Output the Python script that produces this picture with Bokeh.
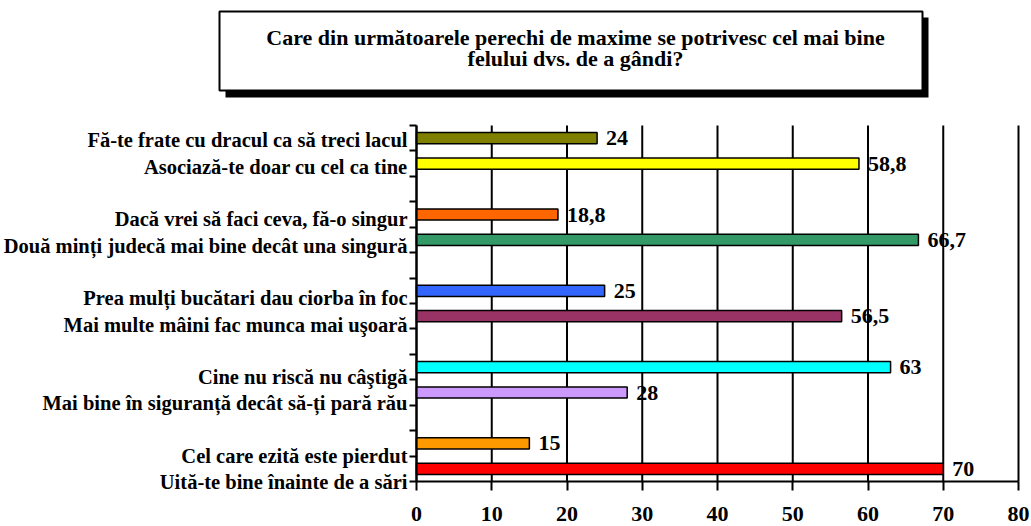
from bokeh.plotting import figure
from bokeh.models import Range1d, ColumnDataSource, FixedTicker, LinearAxis
from bokeh.embed import file_html
from bokeh.resources import INLINE
from bokeh.core.properties import value

# ---- data ----
title_lines = [
    "Care din următoarele perechi de maxime se potrivesc cel mai bine",
    "felului dvs. de a gândi?",
]
categories = [
    "Fă-te frate cu dracul ca să treci lacul",
    "Asociază-te doar cu cel ca tine",
    "Dacă vrei să faci ceva, fă-o singur",
    "Două minți judecă mai bine decât una singură",
    "Prea mulți bucătari dau ciorba în foc",
    "Mai multe mâini fac munca mai uşoară",
    "Cine nu riscă nu câştigă",
    "Mai bine în siguranță decât să-ți pară rău",
    "Cel care ezită este pierdut",
    "Uită-te bine înainte de a sări",
]
values = [24, 58.8, 18.8, 66.7, 25, 56.5, 63, 28, 15, 70]
colors = ["#808000", "#FFFF00", "#FF6600", "#339966", "#3366FF",
          "#993366", "#00FFFF", "#CC99FF", "#FF9900", "#FF0000"]
x_ticks = [0, 10, 20, 30, 40, 50, 60, 70, 80]

# ---- derived ----
n = len(categories)
slots = [3 * (i // 2) + (i % 2) + 1 for i in range(n)]   # pairs separated by a blank slot
n_slots = max(slots)
vlabels = [f"{v:g}".replace(".", ",") for v in values]
src = ColumnDataSource(dict(cat=categories, val=values, color=colors, slot=slots, vlab=vlabels))

FONT = value("Liberation Serif")

# ---- layout geometry (pixels) ----
W, H = 1031, 526
X0_PX, XMAX_PX = 416, 1018          # where 0 and 80 sit
SLOT_TOP_PX, SLOT_BOT_PX = 125, 481  # top / bottom of the bar area
kx = (XMAX_PX - X0_PX) / (x_ticks[-1] - x_ticks[0])
x_start = x_ticks[0] - X0_PX / kx
x_end = x_start + W / kx
ky = (SLOT_BOT_PX - SLOT_TOP_PX) / n_slots
y_top = 0.5 - SLOT_TOP_PX / ky
y_bot = n_slots + 0.5 + (H - SLOT_BOT_PX) / ky
# category labels sit on a slightly stretched scale (as in the original)
lab_k, lab_a = 26.3, 0.43
lab_top = lab_a - SLOT_TOP_PX / lab_k
lab_bot = lab_a + (H - SLOT_TOP_PX) / lab_k

p = figure(width=W, height=H, x_range=Range1d(x_start, x_end), y_range=Range1d(y_bot, y_top),
           output_backend="svg", toolbar_location=None,
           x_axis_location=None, y_axis_location=None, min_border=0)
p.extra_y_ranges = {"lab": Range1d(lab_bot, lab_top), "px": Range1d(H, 0)}
p.extra_x_ranges = {"px": Range1d(0, W)}
p.outline_line_color = None
p.grid.visible = False

# title box with shadow (pixel coordinates)
p.quad(left=[225], right=[928], top=[17], bottom=[97], fill_color="black", line_color=None,
       x_range_name="px", y_range_name="px")
p.quad(left=[219], right=[922], top=[11], bottom=[90], fill_color="white",
       line_color="black", line_width=2, x_range_name="px", y_range_name="px")
p.text(x=[575, 575], y=[37, 58], text=title_lines, text_align="center",
       text_baseline="middle", text_font=FONT, text_font_style="bold",
       text_font_size="22px", text_color="black", x_range_name="px", y_range_name="px")

# vertical grid lines
p.segment(x0=x_ticks, x1=x_ticks, y0=[0.5] * len(x_ticks), y1=[n_slots + 0.5] * len(x_ticks),
          line_color="black", line_width=2)

# bars + value labels
p.hbar(y="slot", left=0, right="val", height=0.44, fill_color="color",
       line_color="black", line_width=1.5, source=src)
p.text(x="val", y="slot", text="vlab", x_offset=9, text_align="left",
       text_baseline="middle", text_font=FONT, text_font_style="bold",
       text_font_size="22px", text_color="black", source=src)

# category labels
p.text(x=0, y="slot", text="cat", x_offset=-9, y_range_name="lab",
       text_align="right", text_baseline="middle", text_font=FONT,
       text_font_style="bold", text_font_size="20.5px", text_color="black", source=src)

# x axis, fixed at the bottom of the bar area
xax = LinearAxis(fixed_location=n_slots + 0.5, ticker=FixedTicker(ticks=x_ticks),
                 bounds=(x_ticks[0], x_ticks[-1]), axis_line_width=2, major_tick_line_width=2,
                 major_tick_out=9, major_tick_in=0, minor_tick_line_color=None,
                 major_label_standoff=16, major_label_text_font="Liberation Serif",
                 major_label_text_font_style="bold", major_label_text_font_size="22px",
                 major_label_text_color="black")
p.add_layout(xax, "below")

# y axis at x = 0, tick marks at the slot boundaries pointing left (no labels)
y_bounds_ticks = [k + 0.5 for k in range(n_slots + 1)]
yax = LinearAxis(fixed_location=0, ticker=FixedTicker(ticks=y_bounds_ticks),
                 bounds=(0.5, n_slots + 0.5), axis_line_width=2, major_tick_line_width=2,
                 major_tick_in=7, major_tick_out=0, minor_tick_line_color=None,
                 major_label_overrides={t: "" for t in y_bounds_ticks},
                 major_label_standoff=0)
p.add_layout(yax, "right")

open("out.html", "w").write(file_html(p, INLINE))
